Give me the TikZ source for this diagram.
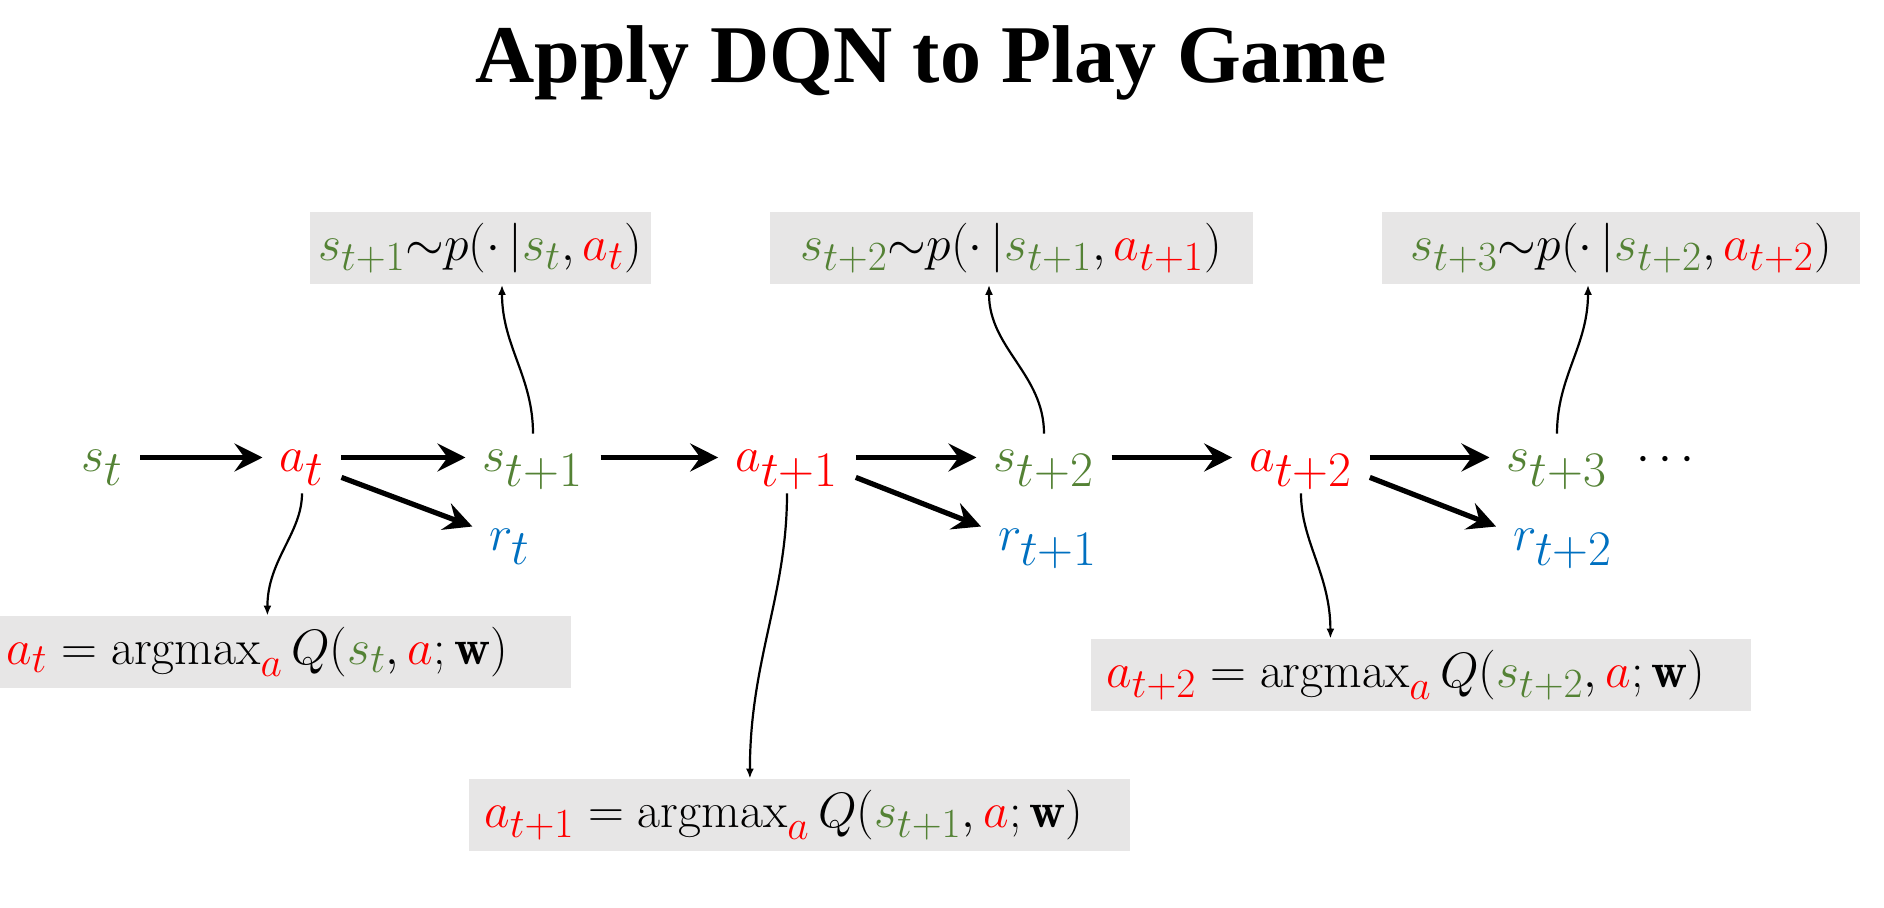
\documentclass[tikz,border=0pt]{standalone}
\usepackage{amsmath}
\usepackage{fontspec}
\newfontfamily\titlefont{Liberation Serif}
\usetikzlibrary{arrows.meta}
\definecolor{stgreen}{HTML}{548235}
\definecolor{actred}{HTML}{FF0000}
\definecolor{rwblue}{HTML}{0070C0}
\definecolor{boxgray}{HTML}{E7E6E6}
\DeclareMathSizes{31}{31}{24}{18}
\DeclareMathSizes{26}{26}{20}{15}
\DeclareMathSizes{25}{25}{19.25}{15}
\newcommand{\svar}[1]{{\color{stgreen}s_{#1}}}
\newcommand{\avar}[1]{{\color{actred}a_{#1}}}
\newcommand{\rvar}[1]{{\color{rwblue}r_{#1}}}
\begin{document}
\begin{tikzpicture}[x=0.5pt,y=0.5pt,
  var/.style={anchor=base,inner xsep=8.5pt,inner ysep=0pt,text height=17pt,text depth=2.5pt,font=\fontsize{31}{36}\selectfont},
  box/.style={fill=boxgray,inner ysep=0pt,minimum height=36pt},
  cond/.style={box,font=\fontsize{26}{31}\selectfont},
  pick/.style={box,anchor=west,inner xsep=7.5pt,align=left,font=\fontsize{25}{30}\selectfont},
  line/.style={-{Stealth[length=14pt,width=14pt,inset=5pt]},line width=2.6pt},
  link/.style={-{Latex[length=5pt,width=4pt]},line width=1.1pt}]
\useasboundingbox (0,0) rectangle (1884,-908);
\node[font=\titlefont\bfseries\fontsize{41}{48}\selectfont,anchor=base] (title) at (931,-83) {Apply DQN to Play Game};
% states, actions, rewards
\node[var] (s0) at (102,-472) {$\svar{t}$};
\node[var] (a0) at (302,-472) {$\avar{t}$};
\node[var] (s1) at (533,-472) {$\svar{t+1}$};
\node[var] (r0) at (510,-551) {$\rvar{t}$};
\node[var] (a1) at (787,-472) {$\avar{t+1}$};
\node[var] (s2) at (1044,-472) {$\svar{t+2}$};
\node[var] (r1) at (1048,-551) {$\rvar{t+1}$};
\node[var] (a2) at (1301,-472) {$\avar{t+2}$};
\node[var] (s3) at (1557,-472) {$\svar{t+3}$};
\node[var] (r2) at (1563,-551) {$\rvar{t+2}$};
\node[var] (dots) at (1670,-472) {$\cdots$};
% transition boxes
\node[cond,minimum width=170.5pt] (nx1) at (480,-248.5) {$\svar{t+1}{\sim}p(\cdot\,|\svar{t},\avar{t})$};
\node[cond,minimum width=241.5pt] (nx2) at (1011,-248.5) {$\svar{t+2}{\sim}p(\cdot\,|\svar{t+1},\avar{t+1})$};
\node[cond,minimum width=239pt] (nx3) at (1621,-248.5) {$\svar{t+3}{\sim}p(\cdot\,|\svar{t+2},\avar{t+2})$};
% policy boxes
\node[pick,text width=275pt] (pk0) at (-9,-652) {$\avar{t}=\operatorname{argmax}_{\color{actred}a}Q(\svar{t},{\color{actred}a};\mathbf{w})$};
\node[pick,text width=315.5pt] (pk1) at (469,-815) {$\avar{t+1}=\operatorname{argmax}_{\color{actred}a}Q(\svar{t+1},{\color{actred}a};\mathbf{w})$};
\node[pick,text width=315pt] (pk2) at (1091,-675) {$\avar{t+2}=\operatorname{argmax}_{\color{actred}a}Q(\svar{t+2},{\color{actred}a};\mathbf{w})$};
\draw[line] (s0) -- (a0);
\draw[line] (a0) -- (s1);
\draw[line] (a0.south east) -- ([yshift=5pt]r0.west);
\draw[line] (s1) -- (a1);
\draw[line] (a1) -- (s2);
\draw[line] (a1.south east) -- ([yshift=5pt]r1.west);
\draw[line] (s2) -- (a2);
\draw[line] (a2) -- (s3);
\draw[line] (a2.south east) -- ([yshift=5pt]r2.west);
\draw[link,shorten <=2pt] (s1.north) to[out=90,in=-90] ([xshift=11pt]nx1.south);
\draw[link,shorten <=2pt] (s2.north) to[out=90,in=-90] ([xshift=-11pt]nx2.south);
\draw[link,shorten <=2pt] (s3.north) to[out=90,in=-90] ([xshift=-16.5pt]nx3.south);
\draw[link,shorten <=8pt] (a0.south) to[out=-90,in=90] ([xshift=-7pt]pk0.north);
\draw[link,shorten <=8pt] (a1.south) to[out=-90,in=90] ([xshift=-25pt]pk1.north);
\draw[link,shorten <=8pt] (a2.south) to[out=-90,in=90] ([xshift=-45.5pt]pk2.north);
\end{tikzpicture}
\end{document}
